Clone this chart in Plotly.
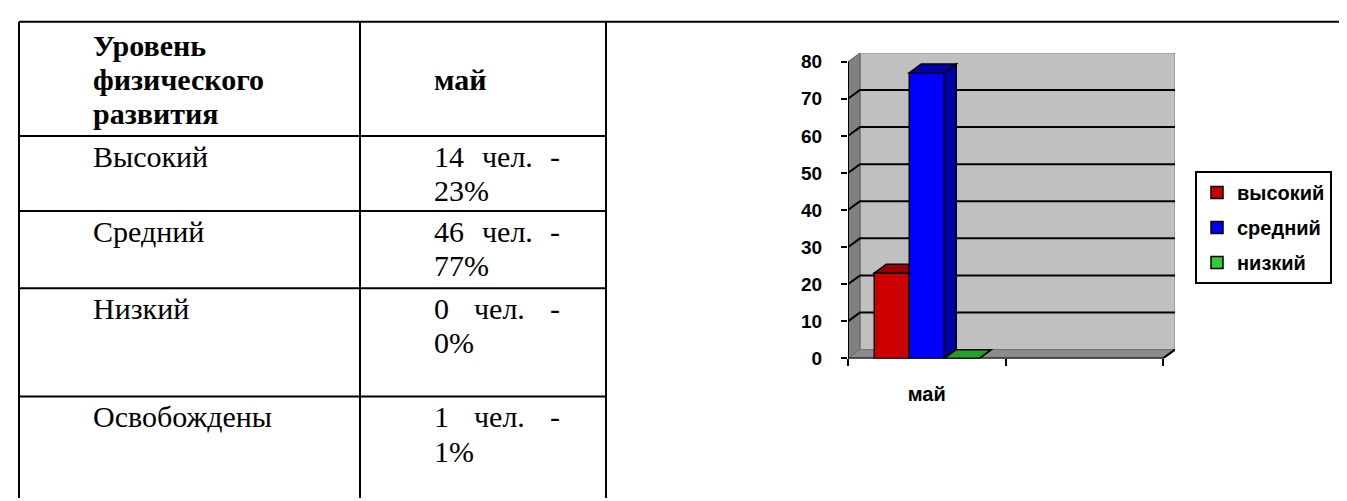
import plotly.graph_objects as go

# ---------------- table data ----------------
header_left_lines = ["Уровень", "физического", "развития"]
header_month = "май"
levels = ["Высокий", "Средний", "Низкий", "Освобождены"]
counts = [14, 46, 0, 1]
percents = [23, 77, 0, 1]

# ---------------- chart data ----------------
series_names = ["высокий", "средний", "низкий"]
series_values = [23, 77, 0]
category_label = "май"
n_categories = 2
y_ticks = [0, 10, 20, 30, 40, 50, 60, 70, 80]

# ---------------- styles ----------------
front_colors = ["#CC0000", "#0000FF", "#33CC33"]
dark_colors = ["#990000", "#0000AA", "#27A027"]

W, H = 1347, 501


def px(x):
    return x / W


def py(y):
    return 1 - y / H


# pixel geometry of the chart frame
X0_PX, X_BACK_RIGHT_PX = 840, 1167
Y0_PX, Y80_PX, Y_TOP_PX = 358, 54, 45
DEPTH_X_PX, DEPTH_Y_PX = 12, 9
x_unit = (X_BACK_RIGHT_PX - DEPTH_X_PX - X0_PX) / n_categories
y_unit = (Y0_PX - Y80_PX) / y_ticks[-1]
DX = DEPTH_X_PX / x_unit
DY = DEPTH_Y_PX / y_unit
YMAX = y_ticks[-1]
XMAX = n_categories

BW = 35 / x_unit  # bar width in category units

fig = go.Figure()

shapes = []
# back wall
shapes.append(dict(type="rect", xref="x", yref="y", x0=DX, x1=XMAX + DX, y0=DY, y1=YMAX + DY,
                   fillcolor="#C0C0C0", line=dict(color="#808080", width=1), layer="below"))
# side wall
shapes.append(dict(type="path", xref="x", yref="y",
                   path=f"M0,0 L{DX},{DY} L{DX},{YMAX + DY} L0,{YMAX} Z",
                   fillcolor="#808080", line=dict(color="#606060", width=1), layer="below"))
# floor
shapes.append(dict(type="path", xref="x", yref="y",
                   path=f"M0,0 L{XMAX},0 L{XMAX + DX},{DY} L{DX},{DY} Z",
                   fillcolor="#8C8C8C", line=dict(color="#707070", width=1), layer="below"))
# gridlines
for v in y_ticks[1:-1]:
    shapes.append(dict(type="path", xref="x", yref="y",
                       path=f"M0,{v} L{DX},{v + DY} L{XMAX + DX},{v + DY}",
                       line=dict(color="black", width=2), layer="below"))
# front edges (axes)
shapes.append(dict(type="path", xref="x", yref="y",
                   path=f"M0,{YMAX} L0,0 L{XMAX},0 L{XMAX + DX},{DY}",
                   line=dict(color="black", width=2), layer="below"))

# bars: front faces as Bar traces, top/side faces as shapes
n = len(series_values)
for i, (name, v) in enumerate(zip(series_names, series_values)):
    off = -n * BW / 2 + i * BW
    x0 = 0.5 + off
    x1 = x0 + BW
    shapes.append(dict(type="path", xref="x", yref="y",
                       path=f"M{x1},0 L{x1 + DX},{DY} L{x1 + DX},{v + DY} L{x1},{v} Z",
                       fillcolor=dark_colors[i], line=dict(color="black", width=1.5), layer="below"))
    shapes.append(dict(type="path", xref="x", yref="y",
                       path=f"M{x0},{v} L{x0 + DX},{v + DY} L{x1 + DX},{v + DY} L{x1},{v} Z",
                       fillcolor=dark_colors[i], line=dict(color="black", width=1.5), layer="below"))
    fig.add_trace(go.Bar(x=[0.5], y=[v], width=[BW], offset=[off], name=name, legendgroup=name,
                         marker=dict(color=front_colors[i], line=dict(color="black", width=1.5)),
                         hoverinfo="skip"))

# ---------------- table lines ----------------
TL, TD, TR = 11, 352, 598
T_TOP = 13
row_lines = [130, 207, 286, 397]
line_style = dict(color="black", width=2)
shapes.append(dict(type="line", xref="paper", yref="paper", x0=px(TL), x1=1, y0=py(T_TOP), y1=py(T_TOP), line=line_style))
for xx in (TL, TD, TR):
    shapes.append(dict(type="line", xref="paper", yref="paper", x0=px(xx), x1=px(xx), y0=py(T_TOP), y1=0, line=line_style))
for yy in row_lines:
    shapes.append(dict(type="line", xref="paper", yref="paper", x0=px(TL), x1=px(TR), y0=py(yy), y1=py(yy), line=line_style))

annotations = []
serif = "Liberation Serif, Times New Roman, serif"
FS = 30
LINE_H = 35
INDENT = 72            # cell left indent (px)
RIGHT_MARGIN_X = 550   # justified right edge of the value column
DIGIT_W = 0.5 * FS
CHEL_W = 1.69 * FS
DASH_W = 0.333 * FS


def add_text(text, x, y, bold=False):
    annotations.append(dict(text=text, x=px(x), y=py(y), xref="paper", yref="paper",
                            xanchor="left", yanchor="middle", showarrow=False,
                            font=dict(family=serif, size=FS, color="black",
                                      weight="bold" if bold else "normal")))


left_x = TL + INDENT
right_x = TD + INDENT
for k, t in enumerate(header_left_lines):
    add_text(t, left_x, 37 + LINE_H * k, bold=True)
add_text(header_month, right_x, 37 + LINE_H, bold=True)

dash_x = RIGHT_MARGIN_X - DASH_W
for r, (lvl, c, p) in enumerate(zip(levels, counts, percents)):
    top = row_lines[r]
    num = str(c)
    num_end = right_x + DIGIT_W * len(num)
    gap = (dash_x - num_end - CHEL_W) / 2
    add_text(lvl, left_x, top + 21)
    add_text(num, right_x, top + 21)
    add_text("чел.", num_end + gap, top + 21)
    add_text("-", dash_x, top + 21)
    add_text(f"{p}%", right_x, top + 21 + LINE_H)

sans = "Liberation Sans, Arial, sans-serif"
fig.update_layout(
    width=W, height=H,
    margin=dict(l=0, r=0, t=0, b=0),
    paper_bgcolor="white", plot_bgcolor="rgba(0,0,0,0)",
    barmode="overlay",
    shapes=shapes, annotations=annotations,
    xaxis=dict(domain=[px(X0_PX), px(X_BACK_RIGHT_PX)], range=[0, XMAX + DX],
               showgrid=False, zeroline=False, showline=False,
               tickmode="array", tickvals=[0.5], ticktext=[category_label], ticks="",
               tickfont=dict(family=sans, size=20, color="black", weight="bold"),
               ticklabelstandoff=22,
               minor=dict(tickmode="array", tickvals=list(range(n_categories + 1)), ticks="outside",
                          ticklen=7, tickwidth=2, tickcolor="black"),
               fixedrange=True),
    yaxis=dict(domain=[py(Y0_PX), py(Y_TOP_PX)], range=[0, YMAX + DY],
               showgrid=False, zeroline=False, showline=False,
               tickmode="array", tickvals=y_ticks, ticks="outside", ticklen=6, tickwidth=2,
               tickcolor="black",
               tickfont=dict(family=sans, size=19, color="black", weight="bold"),
               ticklabelstandoff=15, fixedrange=True),
    showlegend=True,
    legend=dict(x=px(1187), y=py(166), xanchor="left", yanchor="top",
                bordercolor="black", borderwidth=2, bgcolor="white",
                font=dict(family=sans, size=20, color="black", weight="bold"),
                tracegroupgap=6, traceorder="grouped"),
)

fig.write_html("out.html")
